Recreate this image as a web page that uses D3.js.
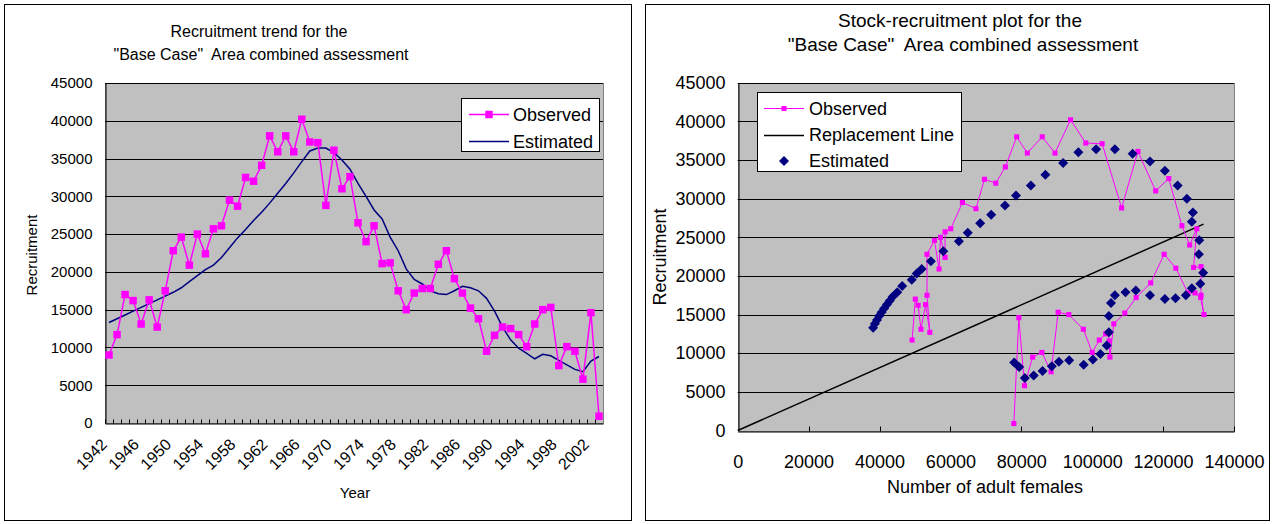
<!DOCTYPE html>
<html><head><meta charset="utf-8">
<script src="https://cdn.jsdelivr.net/npm/d3@7"></script>
<style>
body{margin:0;background:#fff}
svg{display:block}
text{font-family:"Liberation Sans",Arial,sans-serif;fill:#000;white-space:pre}
</style>
</head><body>
<svg id="c" width="1273" height="524"></svg>
<script>
const years=[1942,1943,1944,1945,1946,1947,1948,1949,1950,1951,1952,1953,1954,1955,1956,1957,1958,1959,1960,1961,1962,1963,1964,1965,1966,1967,1968,1969,1970,1971,1972,1973,1974,1975,1976,1977,1978,1979,1980,1981,1982,1983,1984,1985,1986,1987,1988,1989,1990,1991,1992,1993,1994,1995,1996,1997,1998,1999,2000,2001,2002,2003];
const observedRecruits=[9000,11700,17000,16200,13100,16300,12700,17500,22800,24600,20900,25000,22400,25700,26100,29500,28700,32500,32000,34100,38000,35900,38000,35900,40200,37200,37100,28800,36100,31000,32600,26500,24000,26100,21100,21200,17500,15000,17200,17800,17800,21000,22800,19100,17200,15200,13800,9500,11600,12700,12500,11700,10100,13100,15000,15300,7600,10100,9500,5800,14600,900];
const estimatedRecruits=[13300,13800,14300,14800,15300,15800,16300,16800,17300,17900,18700,19500,20300,20900,21900,23200,24500,25600,26800,27900,29100,30400,31700,33100,34600,36000,36400,36400,35800,34800,33600,31700,30000,28200,27000,24600,22800,20400,19000,18400,17500,17100,17000,17500,18100,17900,17500,16500,14800,12700,11000,9900,9200,8500,9100,8900,8300,7700,7100,6800,8200,8800];
const observedStock=[null,49200,50100,50900,51700,53000,54200,53400,53400,55500,56800,57200,58500,58500,60100,63400,67200,69600,72800,75500,78700,81700,85900,89500,93900,98200,102800,108300,112900,117900,121600,125300,127500,129500,128600,130700,130700,131500,130600,129000,127000,123600,120300,116500,112400,109200,106100,105000,104800,104500,103800,102000,100000,97500,93400,90400,88400,85800,83200,80900,79300,77900];
const estimatedStock=[38200,38700,39300,39900,40600,41300,42100,42900,43700,45000,46400,49100,50500,51900,54500,58000,62400,64900,68400,71500,75400,78500,82700,86800,91800,96100,101100,106400,111400,116300,120500,124100,126700,128400,128100,130200,130100,131300,130500,128100,126400,123500,120500,116300,112300,109400,106400,105300,104700,104700,104100,102300,100200,97600,93500,90600,88600,86000,83500,81000,79400,78000];
const replacementStock=[0,131400];
const replacementRecruits=[0,26700];
const recruitTicks=[0,5000,10000,15000,20000,25000,30000,35000,40000,45000];
const stockTicks=[0,20000,40000,60000,80000,100000,120000,140000];
const yearLabels=[1942,1946,1950,1954,1958,1962,1966,1970,1974,1978,1982,1986,1990,1994,1998,2002];

const PINK="#ff00ff", NAVY="#000080", PLOT="#c0c0c0";
const svg=d3.select("#c");

function panel(x,y,w,h){
  svg.append("rect").attr("x",x).attr("y",y).attr("width",w).attr("height",h)
    .attr("fill","#fff").attr("stroke","#000").attr("stroke-width",1);
}
function crisp(v){return Math.round(v)+0.5;}

/* ---------------- LEFT CHART ---------------- */
panel(4.5,4.5,627,516);
const L={x0:105,x1:603,y0:83,y1:423};
const xL=d3.scaleBand().domain(years).range([L.x0,L.x1]);
const yL=d3.scaleLinear().domain([0,45000]).range([L.y1,L.y0]);
const bw=xL.bandwidth();
const gL=svg.append("g");
gL.append("rect").attr("x",L.x0+0.5).attr("y",L.y0+0.5).attr("width",L.x1-L.x0).attr("height",L.y1-L.y0)
  .attr("fill",PLOT).attr("stroke","#808080");
gL.selectAll("line.grid").data(recruitTicks.slice(1)).join("line")
  .attr("x1",L.x0).attr("x2",L.x1).attr("y1",d=>crisp(yL(d))).attr("y2",d=>crisp(yL(d)))
  .attr("stroke","#000").attr("stroke-width",1);
gL.selectAll("line.ct").data(years).join("line")
  .attr("x1",d=>crisp(xL(d))).attr("x2",d=>crisp(xL(d)))
  .attr("y1",crisp(L.y1)-4).attr("y2",crisp(L.y1)).attr("stroke","#000");
const ayL=gL.append("g").attr("transform",`translate(${crisp(L.x0)},0)`)
  .call(d3.axisLeft(yL).tickValues(recruitTicks).tickSize(0).tickPadding(13).tickFormat(d3.format("d")));
ayL.select(".domain").attr("stroke","#000");
ayL.selectAll("text").attr("font-size",15).attr("font-family","Liberation Sans, Arial, sans-serif");
const axL=gL.append("g").attr("transform",`translate(0,${crisp(L.y1)})`)
  .call(d3.axisBottom(xL).tickValues(yearLabels).tickSize(0).tickFormat(d3.format("d")));
axL.select(".domain").attr("stroke","#000");
axL.selectAll("text").attr("font-size",16).attr("font-family","Liberation Sans, Arial, sans-serif")
  .attr("text-anchor","end").attr("y",0).attr("dy","0.35em")
  .attr("transform","translate(-5,18) rotate(-45)");
const lineL=(arr)=>d3.line().x((d,i)=>xL(years[i])+bw/2).y(d=>yL(d))(arr);
gL.append("path").attr("d",lineL(estimatedRecruits)).attr("fill","none").attr("stroke",NAVY).attr("stroke-width",1.5);
gL.append("path").attr("d",lineL(observedRecruits)).attr("fill","none").attr("stroke",PINK).attr("stroke-width",1.5);
gL.selectAll("path.obs").data(observedRecruits).join("path")
  .attr("d",d3.symbol(d3.symbolSquare,56)())
  .attr("transform",(d,i)=>`translate(${xL(years[i])+bw/2},${yL(d)})`).attr("fill",PINK);
gL.append("text").attr("x",259).attr("y",31).attr("dy","0.35em").attr("text-anchor","middle").attr("font-size",16).text("Recruitment trend for the");
gL.append("text").attr("x",261).attr("y",54).attr("dy","0.35em").attr("text-anchor","middle").attr("font-size",16).text('"Base Case"  Area combined assessment');
gL.append("text").attr("transform","translate(32,255) rotate(-90)").attr("dy","0.35em").attr("text-anchor","middle").attr("font-size",15).text("Recruitment");
gL.append("text").attr("x",355).attr("y",493).attr("dy","0.35em").attr("text-anchor","middle").attr("font-size",15).text("Year");
const lgL=gL.append("g");
lgL.append("rect").attr("x",461.5).attr("y",98.5).attr("width",138).attr("height",53).attr("fill","#fff").attr("stroke","#000");
lgL.append("line").attr("x1",469).attr("x2",509).attr("y1",114.5).attr("y2",114.5).attr("stroke",PINK).attr("stroke-width",1.5);
lgL.append("path").attr("d",d3.symbol(d3.symbolSquare,56)()).attr("transform","translate(489,114.5)").attr("fill",PINK);
lgL.append("text").attr("x",513).attr("y",114.5).attr("dy","0.35em").attr("font-size",18).text("Observed");
lgL.append("line").attr("x1",469).attr("x2",509).attr("y1",141.5).attr("y2",141.5).attr("stroke",NAVY).attr("stroke-width",1.5);
lgL.append("text").attr("x",513).attr("y",141.5).attr("dy","0.35em").attr("font-size",18).text("Estimated");

/* ---------------- RIGHT CHART ---------------- */
panel(645.5,4.5,624,516);
const R={x0:737.7,x1:1234,y0:82.7,y1:430.5};
const xR=d3.scaleLinear().domain([0,140000]).range([R.x0,R.x1]);
const yR=d3.scaleLinear().domain([0,45000]).range([R.y1,R.y0]);
const gR=svg.append("g");
gR.append("rect").attr("x",crisp(R.x0)).attr("y",crisp(R.y0)).attr("width",Math.round(R.x1-R.x0)).attr("height",Math.round(R.y1-R.y0))
  .attr("fill",PLOT).attr("stroke","#808080");
gR.selectAll("line.grid").data(recruitTicks.slice(1)).join("line")
  .attr("x1",R.x0).attr("x2",R.x1).attr("y1",d=>crisp(yR(d))).attr("y2",d=>crisp(yR(d)))
  .attr("stroke","#000");
gR.selectAll("line.xt").data(stockTicks.slice(1)).join("line")
  .attr("x1",d=>crisp(xR(d))).attr("x2",d=>crisp(xR(d))).attr("y1",crisp(R.y1)-5).attr("y2",crisp(R.y1)).attr("stroke","#000");
const ayR=gR.append("g").attr("transform",`translate(${crisp(R.x0)},0)`)
  .call(d3.axisLeft(yR).tickValues(recruitTicks).tickSize(0).tickPadding(13).tickFormat(d3.format("d")));
ayR.select(".domain").attr("stroke","#000");
ayR.selectAll("text").attr("font-size",18).attr("font-family","Liberation Sans, Arial, sans-serif");
const axR=gR.append("g").attr("transform",`translate(0,${crisp(R.y1)})`)
  .call(d3.axisBottom(xR).tickValues(stockTicks).tickSize(0).tickPadding(0).tickFormat(d3.format("d")));
axR.select(".domain").attr("stroke","#000");
axR.selectAll("text").attr("font-size",18).attr("font-family","Liberation Sans, Arial, sans-serif").attr("y",30).attr("dy","0.35em");
gR.append("path").attr("d",d3.line().x((d,i)=>xR(d)).y((d,i)=>yR(replacementRecruits[i]))(replacementStock))
  .attr("fill","none").attr("stroke","#000").attr("stroke-width",1.5);
const obsPts=observedStock.map((s,i)=>s==null?null:[s,observedRecruits[i]]).filter(d=>d);
gR.append("path").attr("d",d3.line().x(d=>xR(d[0])).y(d=>yR(d[1]))(obsPts))
  .attr("fill","none").attr("stroke",PINK).attr("stroke-width",1);
gR.selectAll("path.os").data(obsPts).join("path").attr("d",d3.symbol(d3.symbolSquare,26)())
  .attr("transform",d=>`translate(${xR(d[0])},${yR(d[1])})`).attr("fill",PINK);
gR.selectAll("path.es").data(estimatedStock).join("path").attr("d",d3.symbol(d3.symbolSquare,50)())
  .attr("transform",(d,i)=>`translate(${xR(d)},${yR(estimatedRecruits[i])}) rotate(45)`).attr("fill",NAVY);
gR.append("text").attr("x",960).attr("y",20).attr("dy","0.35em").attr("text-anchor","middle").attr("font-size",19).text("Stock-recruitment plot for the");
gR.append("text").attr("x",963).attr("y",44).attr("dy","0.35em").attr("text-anchor","middle").attr("font-size",19).text('"Base Case"  Area combined assessment');
gR.append("text").attr("transform","translate(660,257) rotate(-90)").attr("dy","0.35em").attr("text-anchor","middle").attr("font-size",18).text("Recruitment");
gR.append("text").attr("x",985).attr("y",487).attr("dy","0.35em").attr("text-anchor","middle").attr("font-size",18).text("Number of adult females");
const lgR=gR.append("g");
lgR.append("rect").attr("x",757.5).attr("y",92.5).attr("width",204).attr("height",79).attr("fill","#fff").attr("stroke","#000");
lgR.append("line").attr("x1",764).attr("x2",804).attr("y1",108.5).attr("y2",108.5).attr("stroke",PINK).attr("stroke-width",1);
lgR.append("path").attr("d",d3.symbol(d3.symbolSquare,26)()).attr("transform","translate(784,108.5)").attr("fill",PINK);
lgR.append("text").attr("x",809).attr("y",108.5).attr("dy","0.35em").attr("font-size",18).text("Observed");
lgR.append("line").attr("x1",764).attr("x2",804).attr("y1",135.5).attr("y2",135.5).attr("stroke","#000").attr("stroke-width",1.5);
lgR.append("text").attr("x",809).attr("y",135).attr("dy","0.35em").attr("font-size",18).text("Replacement Line");
lgR.append("path").attr("d",d3.symbol(d3.symbolSquare,50)()).attr("transform","translate(784,161) rotate(45)").attr("fill",NAVY);
lgR.append("text").attr("x",809).attr("y",161).attr("dy","0.35em").attr("font-size",18).text("Estimated");
</script>
</body></html>
